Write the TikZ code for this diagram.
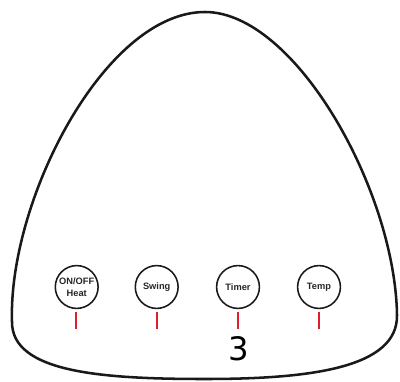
\documentclass[tikz,border=0pt]{standalone}
\usepackage{fontspec}
\setmainfont{Liberation Sans}
\newfontfamily\digitfont{DejaVu Sans}
\definecolor{tickred}{RGB}{222,30,40}
\begin{document}
\begin{tikzpicture}[x=0.025cm,y=-0.025cm,
  outline/.style={line width=1.8pt,draw=black!90},
  button/.style={circle,draw=black!90,line width=1.1pt,minimum size=1.07cm,inner sep=0pt,
    align=center,font=\fontsize{6.6pt}{8.2pt}\selectfont\bfseries,text=black!85},
  tick/.style={draw=tickred,line width=1.5pt}]
\useasboundingbox (0,0) rectangle (400,381);
% outline
\draw[outline] (205,379) .. controls (100,379) and (12,372) .. (12,322)
  .. controls (8,200) and (105,12) .. (205,12)
  .. controls (295,12) and (395,190) .. (397,315)
  .. controls (398,368) and (310,379) .. (205,379) -- cycle;
% buttons
\node[button] (b1) at (76.7,287) {ON/OFF\\Heat};
\node[button] (b2) at (156.7,287) {Swing};
\node[button] (b3) at (238,287) {Timer};
\node[button] (b4) at (319,287) {Temp};
% ticks
\coordinate (t1a) at (76,312); \coordinate (t1b) at (76,329);
\coordinate (t2a) at (157,312);  \coordinate (t2b) at (157,329);
\coordinate (t3a) at (238,312);  \coordinate (t3b) at (238,329);
\coordinate (t4a) at (319,312);  \coordinate (t4b) at (319,329);
\draw[tick] (t1a) -- (t1b);
\draw[tick] (t2a) -- (t2b);
\draw[tick] (t3a) -- (t3b);
\draw[tick] (t4a) -- (t4b);
\node[font=\digitfont\fontsize{23pt}{23pt}\selectfont,inner sep=0pt] (num) at (239,349) {3};
\end{tikzpicture}
\end{document}
